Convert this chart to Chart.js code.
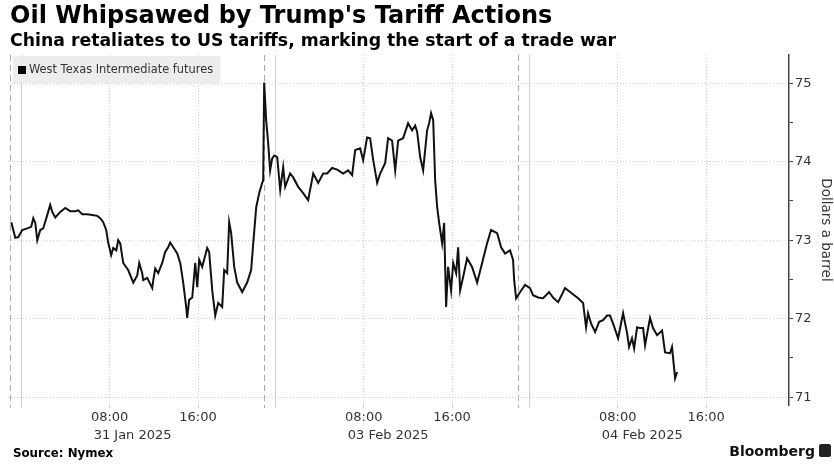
<!DOCTYPE html>
<html lang="en">
<head>
<meta charset="UTF-8">
<title>Oil Whipsawed by Trump's Tariff Actions</title>
<script src="https://cdn.jsdelivr.net/npm/chart.js"></script>
<style>
  body { margin: 0; background: #fff; font-family: 'DejaVu Sans', Verdana, sans-serif; }
  #wrap { position: relative; width: 834px; height: 466px; overflow: hidden; }
  #oilChart { position: absolute; left: 0; top: 0; }
  .title { position: absolute; left: 10px; top: 1px; font-size: 24px; font-weight: bold; color: #000; white-space: nowrap; }
  .subtitle { position: absolute; left: 10px; top: 30px; font-size: 17.3px; font-weight: bold; color: #000; white-space: nowrap; }
  .legend { position: absolute; left: 13px; top: 56px; width: 207px; height: 27px; background: rgba(236,236,236,0.92);
            font-size: 11.4px; color: #333; line-height: 27px; white-space: nowrap; }
  .legend i { display: inline-block; width: 8px; height: 8px; background: #000; margin: 0 3px 0 5px; vertical-align: -0.5px; }
  .source { position: absolute; left: 13px; top: 446px; font-size: 11.8px; font-weight: bold; color: #000; }
  .brand { position: absolute; right: 3px; top: 443px; font-size: 14px; font-weight: bold; color: #111; white-space: nowrap; }
  .brand span { display: inline-block; width: 12px; height: 13px; background: #222; border-radius: 2px; margin-left: 4px; vertical-align: -1px; }
</style>
</head>
<body>
<div id="wrap">
  <canvas id="oilChart" width="834" height="466"></canvas>
  <div class="title">Oil Whipsawed by Trump's Tariff Actions</div>
  <div class="subtitle">China retaliates to US tariffs, marking the start of a trade war</div>
  <div class="legend"><i></i>West Texas Intermediate futures</div>
  <div class="source">Source: Nymex</div>
  <div class="brand">Bloomberg<span></span></div>
</div>

<script>
// trading hours since 31 Jan 00:00 (weekend and daily pauses taken out)
const hours = [
  -0.90, -0.54, -0.27, 0.09, 0.54, 0.90, 1.09, 1.27, 1.45, 1.72, 1.99, 2.35, 2.62, 2.81, 3.08, 3.53,
  3.98, 4.43, 4.89, 5.16, 5.52, 5.97, 6.43, 6.88, 7.15, 7.42, 7.69, 7.87, 8.14, 8.33, 8.60, 8.78,
  8.96, 9.23, 9.68, 10.14, 10.50, 10.68, 10.95, 11.04, 11.40, 11.86, 11.95, 12.13, 12.40, 12.76, 13.03, 13.30,
  13.48, 13.76, 14.12, 14.39, 14.66, 14.93, 15.02, 15.20, 15.48, 15.75, 15.93, 16.11, 16.38, 16.83, 17.01, 17.29,
  17.56, 17.83, 18.19, 18.37, 18.64, 18.82, 19.00, 19.28, 19.55, 20.00, 20.45, 20.81, 21.00, 21.27, 21.54, 21.81,
  21.90, 21.99, 22.17, 22.35, 22.53, 22.71, 22.90, 23.17, 23.44, 23.71, 23.89, 24.34, 24.62, 25.07, 25.52, 25.97,
  26.43, 26.88, 27.33, 27.69, 28.14, 28.60, 29.14, 29.59, 29.95, 30.23, 30.68, 30.95, 31.31, 31.58, 31.86, 32.22,
  32.49, 32.94, 33.21, 33.57, 33.85, 34.12, 34.57, 35.02, 35.38, 35.66, 35.84, 36.11, 36.38, 36.74, 36.92, 37.10,
  37.29, 37.47, 37.65, 37.83, 38.10, 38.28, 38.46, 38.64, 38.91, 39.10, 39.37, 39.55, 39.73, 40.00, 40.36, 40.81,
  41.27, 41.72, 42.17, 42.53, 43.08, 43.44, 43.80, 44.25, 44.52, 44.62, 44.80, 45.16, 45.61, 46.06, 46.33, 46.79,
  47.24, 47.78, 48.14, 48.60, 49.23, 49.68, 50.41, 50.86, 51.13, 51.31, 51.58, 51.95, 52.31, 52.67, 53.03, 53.30,
  53.57, 54.03, 54.48, 54.84, 55.02, 55.29, 55.48, 55.75, 56.02, 56.29, 56.47, 56.92, 57.19, 57.56, 58.01, 58.28,
  58.73, 58.91, 59.00, 59.19, 59.37
];
const prices = [
  73.23, 73.03, 73.04, 73.13, 73.15, 73.17, 73.28, 73.22, 73.00, 73.13, 73.15, 73.32, 73.45, 73.36, 73.29, 73.36,
  73.41, 73.37, 73.37, 73.38, 73.33, 73.33, 73.32, 73.31, 73.28, 73.23, 73.13, 72.97, 72.81, 72.90, 72.87, 73.00,
  72.96, 72.71, 72.62, 72.46, 72.55, 72.71, 72.58, 72.49, 72.52, 72.39, 72.49, 72.64, 72.58, 72.71, 72.85, 72.91,
  72.97, 72.91, 72.83, 72.71, 72.46, 72.15, 72.01, 72.24, 72.27, 72.71, 72.40, 72.75, 72.66, 72.90, 72.85, 72.36,
  72.04, 72.20, 72.15, 72.62, 72.58, 73.23, 73.09, 72.66, 72.46, 72.34, 72.46, 72.62, 72.96, 73.42, 73.60, 73.73,
  73.76, 75.01, 74.53, 74.24, 73.89, 74.04, 74.08, 74.06, 73.64, 73.93, 73.68, 73.85, 73.80, 73.68, 73.60, 73.51,
  73.85, 73.73, 73.85, 73.85, 73.92, 73.90, 73.85, 73.89, 73.83, 74.15, 74.17, 74.02, 74.31, 74.30, 74.02, 73.73,
  73.85, 73.98, 74.30, 74.27, 73.89, 74.27, 74.30, 74.49, 74.40, 74.46, 74.38, 74.06, 73.89, 74.40, 74.49, 74.62,
  74.53, 73.76, 73.42, 73.22, 72.96, 73.22, 72.15, 72.66, 72.36, 72.71, 72.58, 72.91, 72.36, 72.53, 72.77, 72.66,
  72.46, 72.71, 72.96, 73.13, 73.09, 72.91, 72.83, 72.87, 72.75, 72.49, 72.26, 72.34, 72.43, 72.39, 72.30, 72.27,
  72.26, 72.34, 72.27, 72.21, 72.39, 72.34, 72.26, 72.20, 71.89, 72.07, 71.94, 71.83, 71.96, 71.98, 72.04, 72.04,
  71.94, 71.75, 72.07, 71.82, 71.64, 71.75, 71.62, 71.89, 71.88, 71.88, 71.66, 72.01, 71.88, 71.79, 71.85, 71.57,
  71.56, 71.64, 71.51, 71.24, 71.32
];

// x-axis ticks
const labelHours = [8, 16, 31, 39, 54, 62];
const labelTimes = ['08:00', '16:00', '08:00', '16:00', '08:00', '16:00'];
const labelDates = ['31 Jan 2025', '', '03 Feb 2025', '', '04 Feb 2025', ''];
const dayStarts = [0, 23, 46];      // midnight
const dayBreaks = [-1, 22, 45];     // dashed separators
const priceTicks = [71, 71.5, 72, 72.5, 73, 73.5, 74, 74.5, 75];

const allXTicks = [...dayBreaks, ...dayStarts, ...labelHours].sort((a, b) => a - b);

const dateLabels = {
  id: 'dateLabels',
  afterDraw(chart) {
    const ctx = chart.ctx;
    const x = chart.scales.x;
    ctx.save();
    ctx.font = '13px "DejaVu Sans"';
    ctx.fillStyle = '#333';
    ctx.textAlign = 'left';
    ctx.textBaseline = 'middle';
    labelHours.forEach((h, i) => {
      if (labelDates[i]) ctx.fillText(labelDates[i], x.getPixelForValue(h) - 16, 436);
    });
    ctx.restore();
  }
};

const ctx = document.getElementById('oilChart').getContext('2d');
new Chart(ctx, {
  type: 'line',
  data: {
    datasets: [{
      label: 'West Texas Intermediate futures',
      data: hours.map((h, i) => ({ x: h, y: prices[i] })),
      borderColor: '#111',
      borderWidth: 2,
      pointRadius: 0,
      tension: 0
    }]
  },
  options: {
    responsive: false,
    animation: false,
    layout: { padding: { left: 8, top: 55, right: 0, bottom: 0 } },
    plugins: { legend: { display: false }, tooltip: { enabled: false } },
    scales: {
      x: {
        type: 'linear',
        min: -1.2,
        max: 69.5,
        afterBuildTicks: (s) => { s.ticks = allXTicks.map(v => ({ value: v })); },
        afterFit: (s) => { s.height = 61; },
        ticks: {
          autoSkip: false,
          maxRotation: 0,
          padding: 2,
          color: '#333',
          font: { family: 'DejaVu Sans', size: 13 },
          callback: (v) => {
            const i = labelHours.indexOf(v);
            return i >= 0 ? labelTimes[i] : '';
          }
        },
        grid: {
          tickLength: 3,
          lineWidth: 1,
          color: (c) => {
            const v = c.tick ? c.tick.value : null;
            if (dayBreaks.includes(v)) return '#aaa';
            if (dayStarts.includes(v)) return '#cfcfcf';
            return '#d2d2d2';
          }
        },
        border: {
          display: false,
          dash: (c) => {
            const v = c.tick ? c.tick.value : null;
            if (dayBreaks.includes(v)) return [6, 4];
            if (dayStarts.includes(v)) return [];
            return [1, 2];
          }
        }
      },
      y: {
        position: 'right',
        min: 70.9,
        max: 75.36,
        afterBuildTicks: (s) => { s.ticks = priceTicks.map(v => ({ value: v })); },
        afterFit: (s) => { s.width = 45; },
        ticks: {
          padding: 2,
          color: '#333',
          font: { family: 'DejaVu Sans', size: 13 },
          callback: (v) => Number.isInteger(v) ? String(v) : ''
        },
        grid: {
          tickLength: 4,
          tickColor: '#444',
          color: (c) => (c.tick && Number.isInteger(c.tick.value)) ? '#d2d2d2' : 'rgba(0,0,0,0)'
        },
        border: { display: true, color: '#444', width: 1.5, dash: [1, 2] },
        title: {
          display: true,
          text: 'Dollars a barrel',
          color: '#333',
          padding: 0,
          font: { family: 'DejaVu Sans', size: 13.5 }
        }
      }
    }
  },
  plugins: [dateLabels]
});
</script>
</body>
</html>
